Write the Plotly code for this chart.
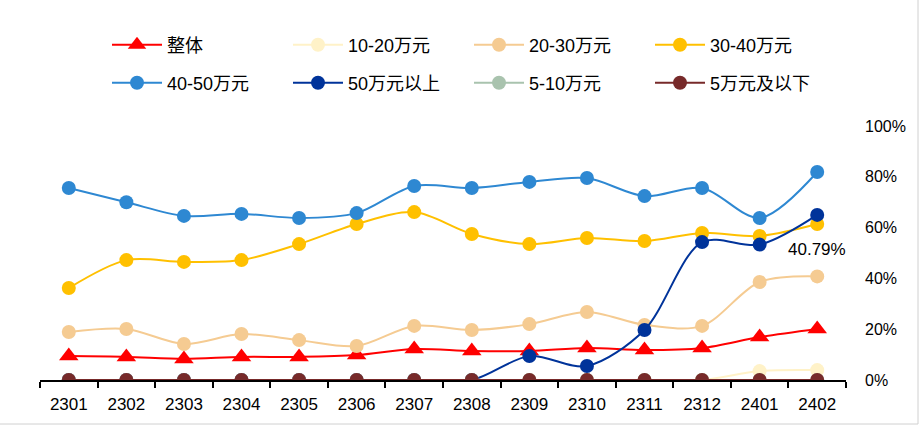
import plotly.graph_objects as go

months = ["2301", "2302", "2303", "2304", "2305", "2306", "2307",
          "2308", "2309", "2310", "2311", "2312", "2401", "2402"]

overall = [9.4, 9.1, 8.3, 9.1, 9.1, 9.8, 12.2, 11.4, 11.4, 12.6, 11.8, 12.6, 16.9, 20.1]
p10_20 = [0, 0, 0, 0, 0, 0, 0, 0, 0, 0, 0, 0, 3.5, 3.9]
p20_30 = [18.9, 20.1, 14.2, 18.1, 15.7, 13.4, 21.3, 19.7, 22.0, 26.8, 21.7, 21.3, 38.6, 40.79]
p30_40 = [36.2, 47.2, 46.5, 47.2, 53.5, 61.4, 66.1, 57.5, 53.5, 55.9, 54.7, 57.9, 56.7, 61.4]
p40_50 = [75.6, 70.0, 64.6, 65.4, 63.8, 65.7, 76.4, 75.6, 78.0, 79.5, 72.4, 75.6, 63.8, 81.9]
p50_up = [0, 0, 0, 0, 0, 0, 0, 0, 9.4, 5.5, 19.7, 54.3, 53.3, 65.0]
p5_10 = [0] * 14
p5_down = [0] * 14

series = [
    ("整体", overall, "#FF0000", "triangle-up", 17, "legend"),
    ("10-20万元", p10_20, "#FFF2C8", "circle", 14, "legend"),
    ("20-30万元", p20_30, "#F5CB92", "circle", 14, "legend"),
    ("30-40万元", p30_40, "#FFC000", "circle", 14, "legend"),
    ("40-50万元", p40_50, "#2E88D2", "circle", 14, "legend2"),
    ("50万元以上", p50_up, "#00339A", "circle", 14, "legend2"),
    ("5-10万元", p5_10, "#A9C3AE", "circle", 14, "legend2"),
    ("5万元及以下", p5_down, "#772A2A", "circle", 14, "legend2"),
]

FONT = "Liberation Sans, Arial, Noto Sans CJK SC, sans-serif"

fig = go.Figure()
for name, vals, color, symbol, size, lg in series:
    fig.add_trace(go.Scatter(
        x=months, y=vals, name=name, mode="lines+markers",
        line=dict(color=color, width=2, shape="spline", smoothing=0.9),
        marker=dict(color=color, symbol=symbol, size=size),
        legend=lg,
    ))

# value label for the last 20-30万元 point (category serial number on the x axis)
last = len(months) - 1
fig.add_annotation(
    x=last, y=p20_30[last], text=f"{p20_30[last]:.2f}%",
    showarrow=False, yshift=27, font=dict(size=17, color="#000000", family=FONT),
)

W, H = 921, 427
L, R, T, B = 40, 75, 126, 47
pw, ph = W - L - R, H - T - B

def px_x(px):
    return (px - L) / pw

def px_y(py):
    return (H - B - py) / ph

legend_common = dict(
    orientation="h", xanchor="left", yanchor="middle",
    font=dict(size=18, color="#000000", family=FONT),
    entrywidth=116, entrywidthmode="pixels", itemwidth=50,
    bgcolor="rgba(0,0,0,0)", tracegroupgap=0,
)

fig.update_layout(
    width=W, height=H,
    margin=dict(l=L, r=R, t=T, b=B),
    plot_bgcolor="white", paper_bgcolor="white",
    font=dict(family=FONT, color="#000000"),
    legend=dict(x=px_x(107), y=px_y(45), **legend_common),
    legend2=dict(x=px_x(107), y=px_y(83), **legend_common),
    xaxis=dict(
        type="category", range=[-0.5, len(months) - 0.5],
        showgrid=False, showline=True, linecolor="#000000", linewidth=1.5,
        ticks="outside", tickson="boundaries", ticklen=6, tickcolor="#000000", tickwidth=1.5,
        ticklabelstandoff=8,
        tickfont=dict(size=17, color="#000000"), zeroline=False,
    ),
    yaxis=dict(
        side="right", range=[0, 100], dtick=20, ticksuffix="%", showgrid=False,
        showline=False, zeroline=False, ticks="", ticklabelstandoff=18,
        tickfont=dict(size=16, color="#000000"),
    ),
    shapes=[
        dict(type="line", xref="paper", yref="paper", x0=px_x(918), x1=px_x(918),
             y0=px_y(424), y1=px_y(0), line=dict(color="#D0D0D0", width=1)),
        dict(type="line", xref="paper", yref="paper", x0=px_x(0), x1=px_x(918),
             y0=px_y(424), y1=px_y(424), line=dict(color="#D0D0D0", width=1)),
    ],
)

fig.write_html("out.html")
